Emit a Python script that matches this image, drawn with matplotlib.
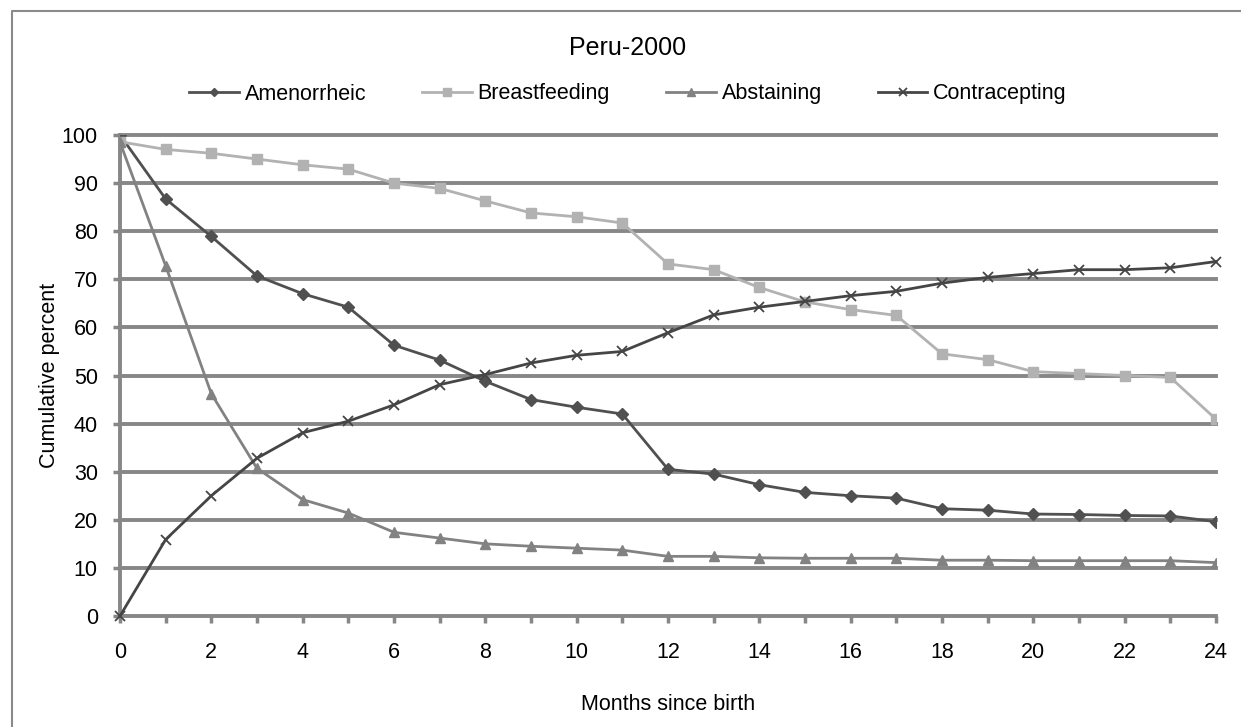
import matplotlib.pyplot as plt
from matplotlib.lines import Line2D

plt.rcParams['font.family'] = ['Liberation Sans', 'DejaVu Sans']

meses = list(range(25))
amenorreica = [100, 86.7, 78.9, 70.7, 67.0, 64.2, 56.3, 53.2, 48.8, 45.0, 43.4, 42.0, 30.5,
               29.5, 27.3, 25.7, 25.0, 24.5, 22.3, 22.0, 21.2, 21.1, 20.9, 20.8, 19.6]
amamentando = [98.6, 97.0, 96.2, 95.0, 93.8, 92.9, 90.0, 88.9, 86.3, 83.8, 83.0, 81.7, 73.2,
               72.0, 68.3, 65.3, 63.7, 62.5, 54.5, 53.3, 50.8, 50.4, 50.0, 49.6, 40.9]
abstinencia = [98.5, 72.8, 46.2, 30.7, 24.2, 21.4, 17.4, 16.2, 15.0, 14.5, 14.1, 13.7, 12.4,
               12.4, 12.1, 12.0, 12.0, 12.0, 11.6, 11.6, 11.5, 11.5, 11.5, 11.5, 11.1]
contracepcao = [0, 15.9, 25.0, 32.8, 38.1, 40.5, 43.9, 48.1, 50.2, 52.6, 54.2, 55.0, 58.9,
                62.6, 64.2, 65.4, 66.6, 67.5, 69.2, 70.4, 71.2, 72.0, 72.0, 72.4, 73.7]

cor_grade = '#878787'
W, H = 1241, 727

fig = plt.figure(figsize=(W / 100, H / 100), dpi=100)
# eixo: x=0 em 120 px, x=24 em 1216 px, y=0 em 616 px, y=100 em 135 px
ax = fig.add_axes([120 / W, 1 - 616 / H, 1096 / W, 481 / H])

for y in range(10, 101, 10):
    ax.axhline(y, color=cor_grade, lw=2.8, zorder=1, clip_on=False)

ax.plot(meses, amenorreica, color='#505050', lw=2, marker='D', markersize=6, label='Amenorrheic', zorder=3)
ax.plot(meses, amamentando, color='#b2b2b2', lw=2, marker='s', markersize=7, label='Breastfeeding', zorder=3)
ax.plot(meses, abstinencia, color='#828282', lw=2, marker='^', markersize=7, label='Abstaining', zorder=3)
ax.plot(meses, contracepcao, color='#454545', lw=2, marker='x', markersize=7, mew=1.3,
        label='Contracepting', zorder=4, clip_on=False)

ax.set_xlim(0, 24)
ax.set_ylim(0, 100)
ax.set_xticks(range(0, 25, 2))
ax.set_xticks(range(0, 25), minor=True)
ax.set_yticks(range(0, 101, 10))
ax.tick_params(axis='x', which='both', length=5, width=2.5, color=cor_grade, labelsize=15.5, pad=14)
ax.tick_params(axis='y', length=5, width=2.5, color=cor_grade, labelsize=15.5, pad=11)

for lado in ['top', 'right']:
    ax.spines[lado].set_visible(False)
ax.spines['left'].set_color(cor_grade)
ax.spines['left'].set_linewidth(2.8)
ax.spines['bottom'].set_color(cor_grade)
ax.spines['bottom'].set_linewidth(2.8)
for sp in ax.spines.values():
    sp.set_zorder(0.5)

ax.set_xlabel('Months since birth', fontsize=15.5, labelpad=22)
ax.set_ylabel('Cumulative percent', fontsize=15.5, labelpad=1)

fig.text(628 / W, 1 - 48 / H, 'Peru-2000', ha='center', va='center', fontsize=18)
fig.legend(loc='center', bbox_to_anchor=(628 / W, 1 - 94 / H), ncol=4, frameon=False,
           fontsize=15.5, handlelength=2.3, columnspacing=2.6, handletextpad=0.28, markerscale=0.75)

# moldura do gráfico (só a borda de cima e da esquerda cabem na imagem)
fig.add_artist(Line2D([12 / W, 12 / W, 1], [0, 1 - 11 / H, 1 - 11 / H], transform=fig.transFigure,
                      color='#8a8a8a', lw=1.5))

plt.savefig('out.png', dpi=100)
